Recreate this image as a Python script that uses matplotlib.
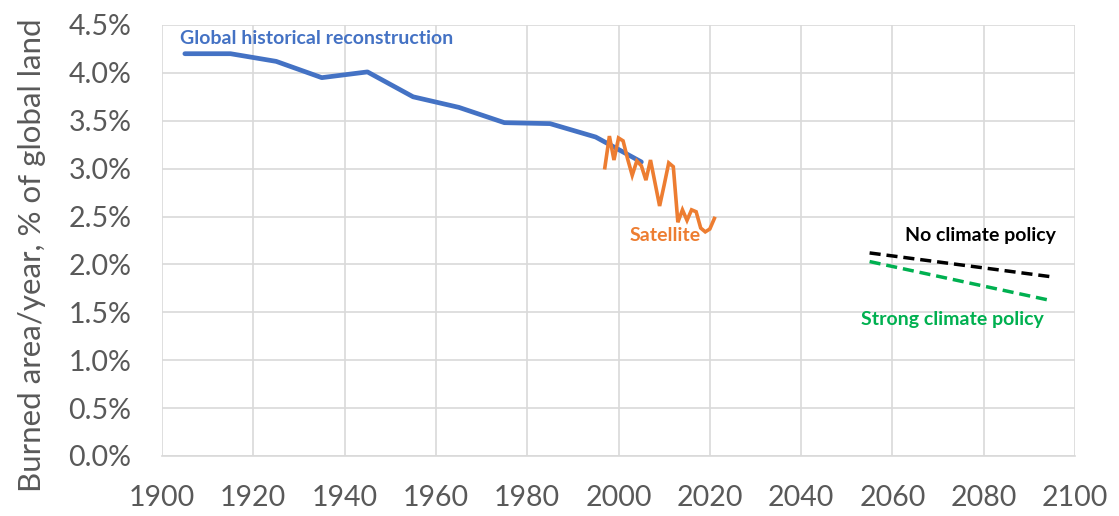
import matplotlib
matplotlib.use('Agg')
import matplotlib.pyplot as plt
from matplotlib.ticker import FuncFormatter

# global historical reconstruction (decadal)
hist_years = [1905, 1915, 1925, 1935, 1945, 1955, 1965, 1975, 1985, 1995, 2005]
hist_vals = [4.20, 4.20, 4.12, 3.95, 4.01, 3.75, 3.64, 3.48, 3.47, 3.33, 3.07]

# satellite record
sat_years = list(range(1997, 2022))
sat_vals = [3.01, 3.34, 3.09, 3.32, 3.29, 3.10, 2.93, 3.08, 3.03, 2.88, 3.09, 2.85,
            2.61, 2.83, 3.06, 3.02, 2.44, 2.57, 2.46, 2.57, 2.55, 2.38, 2.34, 2.37, 2.48]

# projections
proj_years = [2055, 2095]
no_policy = [2.12, 1.87]
strong_policy = [2.03, 1.62]

xticks = list(range(1900, 2101, 20))
yticks = [i * 0.5 for i in range(10)]

grey = '#595959'
plt.rcParams['font.family'] = ['Lato', 'DejaVu Sans']

fig = plt.figure(figsize=(11.19, 5.16), dpi=100)
ax = fig.add_axes([0.1448, 0.1163, 0.8159, 0.8353])

ax.plot(hist_years, hist_vals, color='#4472C4', linewidth=3.4, solid_capstyle='round', zorder=3)
ax.plot(sat_years, sat_vals, color='#ED7D31', linewidth=2.6, solid_joinstyle='miter', zorder=4)
ax.plot(proj_years, no_policy, color='black', linewidth=2.5, dashes=(3.2, 1.7), zorder=3)
ax.plot(proj_years, strong_policy, color='#00B050', linewidth=2.5, dashes=(3.2, 1.7), zorder=3)

ax.text(1904, 4.36, 'Global historical reconstruction', color='#4472C4', fontsize=14,
        fontweight='bold', va='center', ha='left')
ax.text(2002.5, 2.30, 'Satellite', color='#ED7D31', fontsize=14,
        fontweight='bold', va='center', ha='left')
ax.text(2062.8, 2.30, 'No climate policy', color='black', fontsize=14,
        fontweight='bold', va='center', ha='left')
ax.text(2053.2, 1.42, 'Strong climate policy', color='#00B050', fontsize=14,
        fontweight='bold', va='center', ha='left')

ax.set_xlim(1900, 2100)
ax.set_ylim(0, 4.5)
ax.set_xticks(xticks)
ax.set_yticks(yticks)
ax.yaxis.set_major_formatter(FuncFormatter(lambda v, p: '%.1f%%' % v))
ax.grid(True, color='#d9d9d9', linewidth=1.2)
ax.set_axisbelow(True)
for s in ['top', 'right', 'left']:
    ax.spines[s].set_visible(False)
ax.spines['bottom'].set_color('#d9d9d9')
ax.spines['bottom'].set_linewidth(1.2)
ax.tick_params(length=0, labelsize=20.5, labelcolor=grey)
ax.tick_params(axis='x', pad=21)
ax.tick_params(axis='y', pad=22)
ax.set_ylabel('Burned area/year, % of global land', fontsize=22.5, color=grey)
ax.yaxis.set_label_coords(-0.127, 0.466)

plt.savefig('out.png')
